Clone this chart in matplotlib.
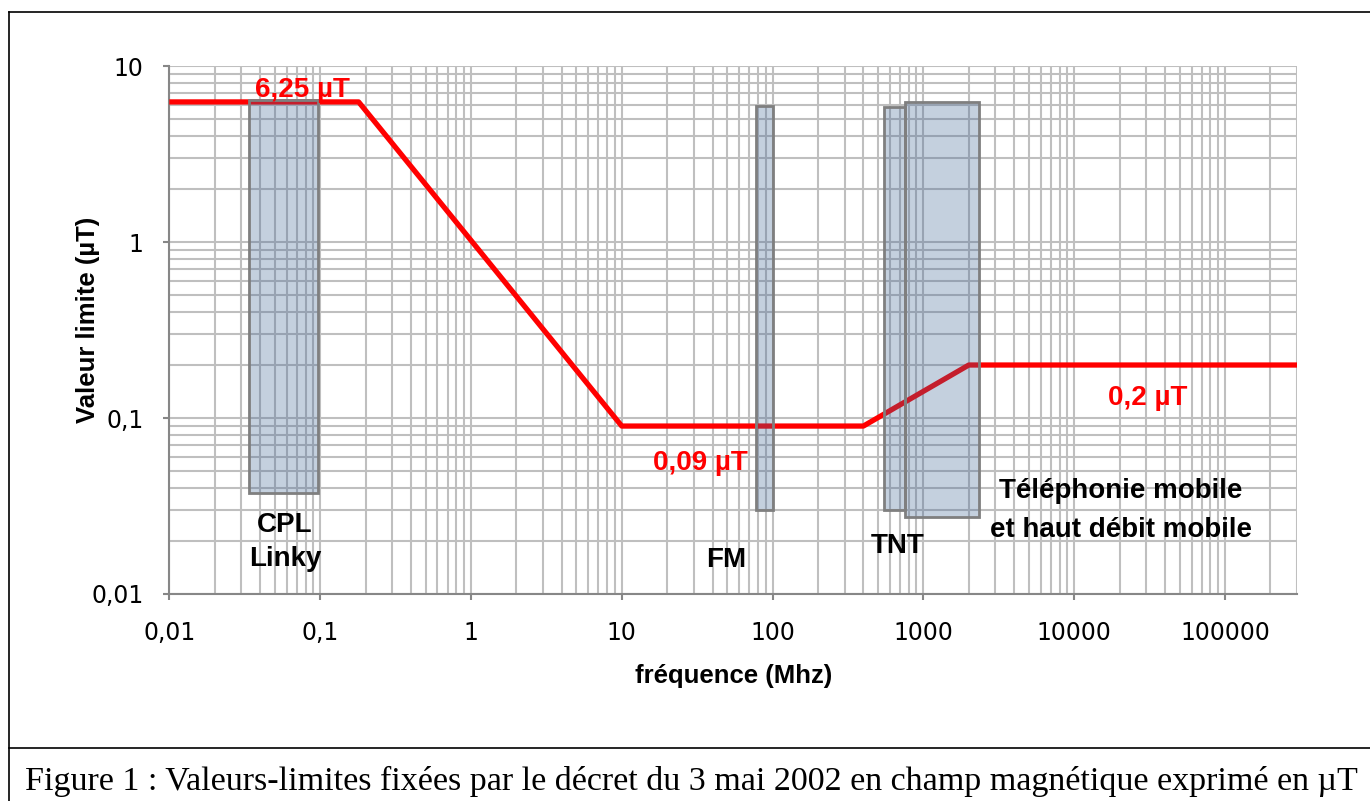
import matplotlib
matplotlib.use('Agg')
import matplotlib.pyplot as plt
from matplotlib import font_manager
from matplotlib.lines import Line2D
from matplotlib.patches import Rectangle
from matplotlib.ticker import FixedLocator, FixedFormatter, LogLocator, NullFormatter

# courbe des valeurs limites (µT) selon la fréquence (MHz)
freq = [0.01, 0.18, 10, 400, 2000, 300000]
limite = [6.25, 6.25, 0.09, 0.09, 0.2, 0.2]

# bandes de fréquences utilisées
bande_fmin = [0.034, 78, 550, 750]
bande_fmax = [0.097, 101, 750, 2350]
bande_bas = [0.0375, 0.030, 0.030, 0.0274]
bande_haut = [6.4, 5.9, 5.85, 6.25]

x_ticks = [0.01, 0.1, 1, 10, 100, 1000, 10000, 100000]
x_labels = ['0,01', '0,1', '1', '10', '100', '1000', '10000', '100000']
y_ticks = [0.01, 0.1, 1, 10]
y_labels = ['0,01', '0,1', '1', '10']

# étiquettes : texte, x, y (ligne de base)
valeurs_txt = ['6,25 µT', '0,09 µT', '0,2 µT']
valeurs_x = [0.076, 33.2, 30760]
valeurs_y = [6.67, 0.0507, 0.1186]

bandes_txt = ['CPL', 'Linky', 'FM', 'TNT', 'Téléphonie mobile', 'et haut débit mobile']
bandes_x = [0.0586, 0.0586, 49.4, 674, 20300, 20300]
bandes_y = [0.0225, 0.0144, 0.0142, 0.0171, 0.0351, 0.0211]


def dispo(nom):
    try:
        font_manager.findfont(font_manager.FontProperties(family=nom), fallback_to_default=False)
        return True
    except ValueError:
        return False


if dispo('Liberation Sans Narrow'):
    police_etiq, taille_etiq = 'Liberation Sans Narrow', 24
else:
    police_etiq, taille_etiq = 'Liberation Sans', 20

fig = plt.figure(figsize=(13.7, 8.01), dpi=100)
ax = fig.add_axes([169.3 / 1370, 1 - 594 / 801, (1297 - 169.3) / 1370, (594 - 66) / 801])

ax.set_xscale('log')
ax.set_yscale('log')
ax.set_xlim(0.01, 300000)
ax.set_ylim(0.01, 10)

ax.plot(freq, limite, color='#FF0000', lw=3.8, zorder=3, solid_capstyle='butt')

for f0, f1, b0, b1 in zip(bande_fmin, bande_fmax, bande_bas, bande_haut):
    ax.add_patch(Rectangle((f0, b0), f1 - f0, b1 - b0, facecolor='#3E6494', alpha=0.3,
                           edgecolor='none', zorder=4))
    ax.add_patch(Rectangle((f0, b0), f1 - f0, b1 - b0, facecolor='none',
                           edgecolor='#7F7F7F', lw=2.0, zorder=5))

ax.xaxis.set_major_locator(FixedLocator(x_ticks))
ax.xaxis.set_major_formatter(FixedFormatter(x_labels))
ax.yaxis.set_major_locator(FixedLocator(y_ticks))
ax.yaxis.set_major_formatter(FixedFormatter(y_labels))
ax.xaxis.set_minor_locator(LogLocator(base=10, subs=range(2, 10), numticks=30))
ax.yaxis.set_minor_locator(LogLocator(base=10, subs=range(2, 10), numticks=30))
ax.xaxis.set_minor_formatter(NullFormatter())
ax.yaxis.set_minor_formatter(NullFormatter())

ax.grid(True, which='both', color='#BFBFBF', lw=1.5, zorder=1)
ax.set_axisbelow(True)
for s in ['top', 'right']:
    ax.spines[s].set_visible(False)
for s in ['left', 'bottom']:
    ax.spines[s].set_color('#878787')
    ax.spines[s].set_linewidth(1.5)
    ax.spines[s].set_zorder(2)

ax.tick_params(which='major', length=4.5, width=1.5, color='#878787', labelsize=17,
               labelcolor='black')
ax.tick_params(axis='x', which='major', pad=15)
ax.tick_params(axis='y', which='major', pad=14)
ax.tick_params(which='minor', length=0)
for lab in ax.get_xticklabels() + ax.get_yticklabels():
    lab.set_family('DejaVu Sans')

ax.set_xlabel('fréquence (Mhz)', family='Liberation Sans', fontweight='bold', fontsize=18.5)
ax.set_ylabel('Valeur limite (µT)', family='Liberation Sans', fontweight='bold', fontsize=18.5)
ax.xaxis.set_label_coords(0.5, -0.133)
ax.yaxis.set_label_coords(-0.0615, 0.519)

for t, x, y in zip(valeurs_txt, valeurs_x, valeurs_y):
    ax.text(x, y, t, color='#FF0000', ha='center', va='baseline', family=police_etiq,
            fontweight='bold', fontsize=taille_etiq, zorder=6)
for t, x, y in zip(bandes_txt, bandes_x, bandes_y):
    ax.text(x, y, t, color='black', ha='center', va='baseline', family=police_etiq,
            fontweight='bold', fontsize=taille_etiq, zorder=6)

# cadre et légende de la figure
fig.add_artist(Line2D([9 / 1370, 9 / 1370], [0, 1 - 12 / 801], color='black', lw=1.2))
fig.add_artist(Line2D([9 / 1370, 1], [1 - 12 / 801, 1 - 12 / 801], color='black', lw=1.2))
fig.add_artist(Line2D([9 / 1370, 1], [1 - 748 / 801, 1 - 748 / 801], color='black', lw=1.2))
fig.text(25 / 1370, 1 - 790 / 801,
         'Figure 1 : Valeurs-limites fixées par le décret du 3 mai 2002 en champ magnétique exprimé en µT',
         family='Liberation Serif', fontsize=24.5, va='baseline', ha='left')

fig.savefig('out.png', dpi=100)
